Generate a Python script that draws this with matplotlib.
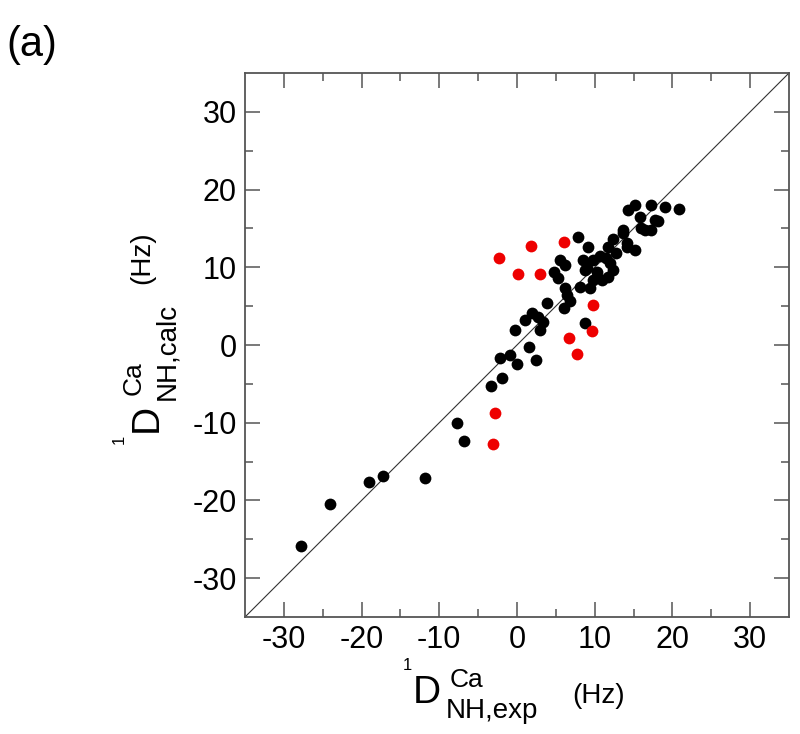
import matplotlib
matplotlib.use("Agg")
import matplotlib.pyplot as plt
import numpy as np

plt.rcParams['font.family'] = ['Liberation Sans', 'DejaVu Sans']
plt.rcParams['axes.unicode_minus'] = False

# Data (Hz)
black_exp = [-27.8, -24.0, -19.1, -17.3, -11.9, -7.7, -6.8, -3.3, -1.9, -2.2, -0.9, 0.0, 1.5, 2.5,
             -0.3, 1.0, 1.9, 2.7, 3.4, 3.0, 3.8, 6.0, 6.8, 6.4, 6.2, 5.3, 4.7, 5.5, 6.2, 7.9, 8.1,
             9.4, 8.8,
             9.2, 8.5, 9.8, 9.0, 10.3, 11.5, 10.9, 12.4, 12.4, 13.7, 14.1, 15.2, 11.7, 9.8, 12.8,
             10.7, 12.0, 8.8, 11.7, 14.1,
             14.3, 15.2, 17.3, 19.0, 20.9, 15.8, 17.8, 16.0, 17.3, 18.2, 13.7, 16.5]
black_calc = [-25.9, -20.5, -17.6, -16.9, -17.1, -10.1, -12.3, -5.3, -4.2, -1.7, -1.3, -2.4, -0.2, -1.9,
              1.9, 3.2, 4.1, 3.6, 3.0, 1.9, 5.4, 4.7, 5.6, 6.4, 7.3, 8.6, 9.4, 10.9, 10.3, 13.9, 7.5,
              7.3, 2.8,
              12.6, 10.9, 10.9, 9.9, 9.4, 11.2, 8.4, 9.7, 13.7, 14.4, 12.6, 12.2, 8.8, 8.4, 11.8,
              11.4, 10.5, 9.7, 12.6, 13.1,
              17.4, 18.0, 18.0, 17.8, 17.5, 16.5, 16.1, 15.0, 14.8, 15.9, 14.8, 14.8]

red_exp = [-2.3, 1.8, 6.1, 0.1, 2.9, 9.8, 9.7, 6.7, 7.7, -2.8, -3.1]
red_calc = [11.2, 12.7, 13.2, 9.1, 9.1, 5.2, 1.8, 0.9, -1.2, -8.7, -12.8]

diag = [-35, 35]
major_ticks = [-30, -20, -10, 0, 10, 20, 30]
minor_ticks = [-25, -15, -5, 5, 15, 25]

W, H = 800, 734
fig = plt.figure(figsize=(W / 100, H / 100), dpi=100)
ax = fig.add_axes([245 / W, 1 - 617 / H, 544 / W, 544 / H])

ax.plot(diag, diag, color='#333333', lw=0.8, zorder=1)
ax.scatter(black_exp, black_calc, s=72, color='black', linewidths=0, zorder=2)
ax.scatter(red_exp, red_calc, s=72, color='#ee0000', linewidths=0, zorder=3)

ax.set_xlim(-35, 35)
ax.set_ylim(-35, 35)
ax.set_xticks(major_ticks)
ax.set_yticks(major_ticks)
ax.set_xticks(minor_ticks, minor=True)
ax.set_yticks(minor_ticks, minor=True)
ax.tick_params(which='both', direction='in', top=True, right=True, color='#555555', width=1.1)
ax.tick_params(which='major', length=10.5, labelsize=22, pad=6)
ax.tick_params(which='minor', length=5.8)
for sp in ax.spines.values():
    sp.set_color('#555555')
    sp.set_linewidth(1.3)


def px(x, y):
    return x / W, 1 - y / H


# x-axis label pieces
for txt, x, y, size in [("1", 403, 670, 12), ("D", 413, 703, 28), ("Ca", 450, 687, 19),
                        ("NH,exp", 446, 718, 20), ("(Hz)", 572, 703, 20)]:
    fig.text(*px(x, y), txt, fontsize=size, ha='left', va='baseline')

# y-axis label pieces (rotated)
for txt, x, y, size in [("1", 124, 444, 12), ("D", 157, 432, 28), ("Ca", 141, 395, 19),
                        ("NH,calc", 174, 400, 20), ("(Hz)", 149, 284, 20)]:
    fig.text(*px(x, y), txt, fontsize=size, ha='left', va='baseline',
             rotation=90, rotation_mode='anchor')

fig.text(*px(6, 56), "(a)", fontsize=30, ha='left', va='baseline')

fig.savefig("out.png", dpi=100)
